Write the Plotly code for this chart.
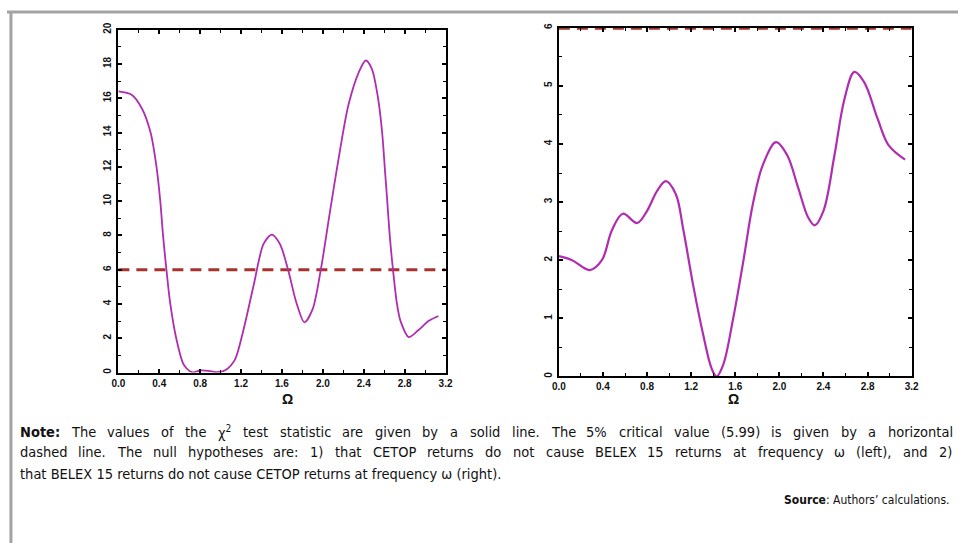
import re
import plotly.graph_objects as go

# ---- data ----
omega_left = [0.0, 0.13, 0.23, 0.315, 0.373, 0.41, 0.437, 0.47, 0.508, 0.566, 0.64, 0.72, 0.80,
              0.88, 0.96, 1.05, 1.14, 1.22, 1.32, 1.42, 1.50, 1.58, 1.66, 1.74, 1.82, 1.90, 1.98,
              2.07, 2.16, 2.25, 2.35, 2.42, 2.48, 2.54, 2.58, 2.605, 2.63, 2.654, 2.686, 2.725,
              2.76, 2.84, 2.93, 3.04, 3.13]
chi2_left = [16.4, 16.2, 15.4, 14.0, 12.0, 10.0, 8.0, 6.0, 4.0, 2.0, 0.45, 0.02, 0.12,
             0.1, 0.02, 0.15, 0.75, 2.4, 5.0, 7.5, 8.05, 7.5, 6.0, 4.1, 2.93, 3.7, 6.0,
             9.4, 12.7, 15.6, 17.5, 18.2, 17.7, 16.0, 14.0, 12.0, 10.0, 8.0, 6.0, 4.0,
             3.0, 2.07, 2.45, 3.03, 3.3]

omega_right = [0.0, 0.12, 0.28, 0.39, 0.48, 0.58, 0.71, 0.80, 0.89, 0.97, 1.06, 1.13, 1.22,
               1.31, 1.385, 1.43, 1.49, 1.58, 1.67, 1.76, 1.85, 1.97, 2.07, 2.17, 2.26, 2.32,
               2.40, 2.50, 2.59, 2.68, 2.77, 2.89, 2.99, 3.14]
chi2_right = [2.07, 2.0, 1.83, 2.0, 2.51, 2.80, 2.64, 2.85, 3.19, 3.36, 3.14, 2.51, 1.55,
              0.71, 0.14, 0.0, 0.2, 0.99, 1.95, 2.97, 3.64, 4.03, 3.81, 3.25, 2.74, 2.60,
              2.85, 3.81, 4.77, 5.24, 5.06, 4.44, 3.98, 3.73]

crit_x = [0.0, 3.2]
crit_y = [5.99, 5.99]

x_ticks = [0.0, 0.4, 0.8, 1.2, 1.6, 2.0, 2.4, 2.8, 3.2]
y_ticks_left = [0, 2, 4, 6, 8, 10, 12, 14, 16, 18, 20]
y_ticks_right = [0, 1, 2, 3, 4, 5, 6]

note_lines = [
    "<b>Note:</b> The values of the χ<sup>2</sup> test statistic are given by a solid line. The 5% critical value (5.99) is given by a horizontal",
    "dashed line. The null hypotheses are: 1) that CETOP returns do not cause BELEX 15 returns at frequency ω (left), and 2)",
    "that BELEX 15 returns do not cause CETOP returns at frequency ω (right).",
]
justified = [True, True, False]
source_text = "<b>Source</b>: Authors’ calculations."

W, H = 965, 544
CURVE = "#b02cb0"
DASH = "#a8332e"
TEXTFONT = "DejaVu Sans Condensed, Liberation Sans Narrow, Arial Narrow, sans-serif"
TEXTSIZE = 14.5

# approximate DejaVu Sans advance widths (per 1000 em); condensed face is ~0.9 of these
REG = {" ": 318, "(": 390, ")": 390, "%": 950, ".": 318, ",": 318, ":": 337, "’": 318,
       "χ": 600, "ω": 830}
REG.update({d: 636 for d in "0123456789"})
REG.update(dict(zip("ABCDEFGHIJKLMNOPQRSTUVWXYZ",
                    [684, 686, 698, 770, 632, 575, 775, 752, 295, 295, 656, 557, 863, 748, 787,
                     603, 787, 695, 635, 611, 732, 684, 989, 685, 611, 685])))
REG.update(dict(zip("abcdefghijklmnopqrstuvwxyz",
                    [613, 635, 550, 635, 615, 352, 635, 634, 278, 278, 579, 278, 974, 634, 612,
                     635, 635, 411, 521, 392, 634, 592, 818, 592, 592, 525])))
BOLD = dict(REG)
BOLD.update({"N": 837, "o": 687, "t": 478, "e": 678, ":": 400, "S": 720, "u": 712, "r": 493,
             "c": 593})
CONDENSED = 0.9


def width(html, size):
    total = 0.0
    bold = False
    sup = False
    for tok in re.split(r"(<[^>]+>)", html):
        if tok.startswith("<"):
            t = tok.lower()
            if t == "<b>":
                bold = True
            elif t == "</b>":
                bold = False
            elif t == "<sup>":
                sup = True
            elif t == "</sup>":
                sup = False
            continue
        table = BOLD if bold else REG
        scale = 0.7 if sup else 1.0
        for ch in tok:
            total += table.get(ch, 600) * scale
    return total * CONDENSED * size / 1000.0


fig = go.Figure()
fig.add_trace(go.Scatter(x=crit_x, y=crit_y, mode="lines", xaxis="x", yaxis="y",
                         line=dict(color=DASH, width=3, dash="11px,7px"), cliponaxis=False))
fig.add_trace(go.Scatter(x=omega_left, y=chi2_left, mode="lines", xaxis="x", yaxis="y",
                         line=dict(color=CURVE, width=1.8, shape="spline", smoothing=0.8)))
fig.add_trace(go.Scatter(x=crit_x, y=crit_y, mode="lines", xaxis="x2", yaxis="y2",
                         line=dict(color=DASH, width=3, dash="11px,7px"), cliponaxis=False))
fig.add_trace(go.Scatter(x=omega_right, y=chi2_right, mode="lines", xaxis="x2", yaxis="y2",
                         line=dict(color=CURVE, width=2.2, shape="spline", smoothing=1.0)))

tickfont = dict(family="Liberation Sans, Arial, sans-serif", size=10, color="#111111", weight="bold")


def xaxis(domain, anchor):
    return dict(domain=domain, anchor=anchor, range=[0, 3.2], tickvals=x_ticks,
                ticktext=[f"{v:.1f}" for v in x_ticks], showgrid=False, zeroline=False,
                showline=True, linecolor="black", linewidth=2, mirror="allticks",
                ticks="inside", ticklen=4, tickwidth=1.5, tickcolor="black", tickfont=tickfont,
                minor=dict(ticks="inside", ticklen=3, dtick=0.2, tickcolor="black", tickwidth=1))


def yaxis(domain, anchor, rng, vals, dminor):
    return dict(domain=domain, anchor=anchor, range=rng, tickvals=vals, tickangle=-90,
                showgrid=False, zeroline=False, showline=True, linecolor="black", linewidth=2,
                mirror="allticks", ticks="inside", ticklen=4, tickwidth=1.5, tickcolor="black",
                tickfont=tickfont, ticklabelstandoff=1,
                minor=dict(ticks="inside", ticklen=3, dtick=dminor, tickcolor="black", tickwidth=1))


annotations = []
for cx in (277, 745):
    annotations.append(dict(text="<b>Ω</b>", x=cx / W, y=1 - 408 / H, xref="paper", yref="paper",
                            showarrow=False,
                            font=dict(family="Liberation Sans, Arial", size=14, color="#111")))

LEFT, RIGHT = 12, 958
for line, yy, just in zip(note_lines, [431, 452, 474], justified):
    words = line.split(" ")
    if just:
        widths = [width(w, TEXTSIZE) for w in words]
        gap = (RIGHT - LEFT - sum(widths)) / (len(words) - 1)
        xpos = LEFT
        for w, wd in zip(words, widths):
            annotations.append(dict(text=w, x=xpos / W, y=1 - yy / H, xref="paper", yref="paper",
                                    xanchor="left", yanchor="middle", showarrow=False,
                                    borderpad=0,
                                    font=dict(family=TEXTFONT, size=TEXTSIZE, color="#111")))
            xpos += wd + gap
    else:
        annotations.append(dict(text=line, x=LEFT / W, y=1 - yy / H, xref="paper", yref="paper",
                                xanchor="left", yanchor="middle", showarrow=False, borderpad=0,
                                font=dict(family=TEXTFONT, size=TEXTSIZE, color="#111")))
annotations.append(dict(text=source_text, x=RIGHT / W, y=1 - 500 / H, xref="paper", yref="paper",
                        xanchor="right", yanchor="middle", showarrow=False, borderpad=0,
                        font=dict(family=TEXTFONT, size=12, color="#111")))

shapes = [
    dict(type="line", xref="paper", yref="paper", x0=0, x1=1, y0=1 - 5 / H, y1=1 - 5 / H,
         line=dict(color="#a3a3a3", width=3)),
    dict(type="line", xref="paper", yref="paper", x0=4 / W, x1=4 / W, y0=0, y1=1 - 5 / H,
         line=dict(color="#a3a3a3", width=3)),
]

fig.update_layout(
    width=W, height=H, margin=dict(l=0, r=0, t=0, b=0),
    paper_bgcolor="white", plot_bgcolor="white", showlegend=False,
    xaxis=xaxis([113 / W, 445 / W], "y"),
    yaxis=yaxis([(H - 371) / H, (H - 23) / H], "x", [0, 20], y_ticks_left, 1),
    xaxis2=xaxis([560 / W, 918 / W], "y2"),
    yaxis2=yaxis([(H - 375) / H, (H - 21) / H], "x2", [0, 6], y_ticks_right, 0.5),
    annotations=annotations, shapes=shapes,
)

fig.write_html("out.html")
